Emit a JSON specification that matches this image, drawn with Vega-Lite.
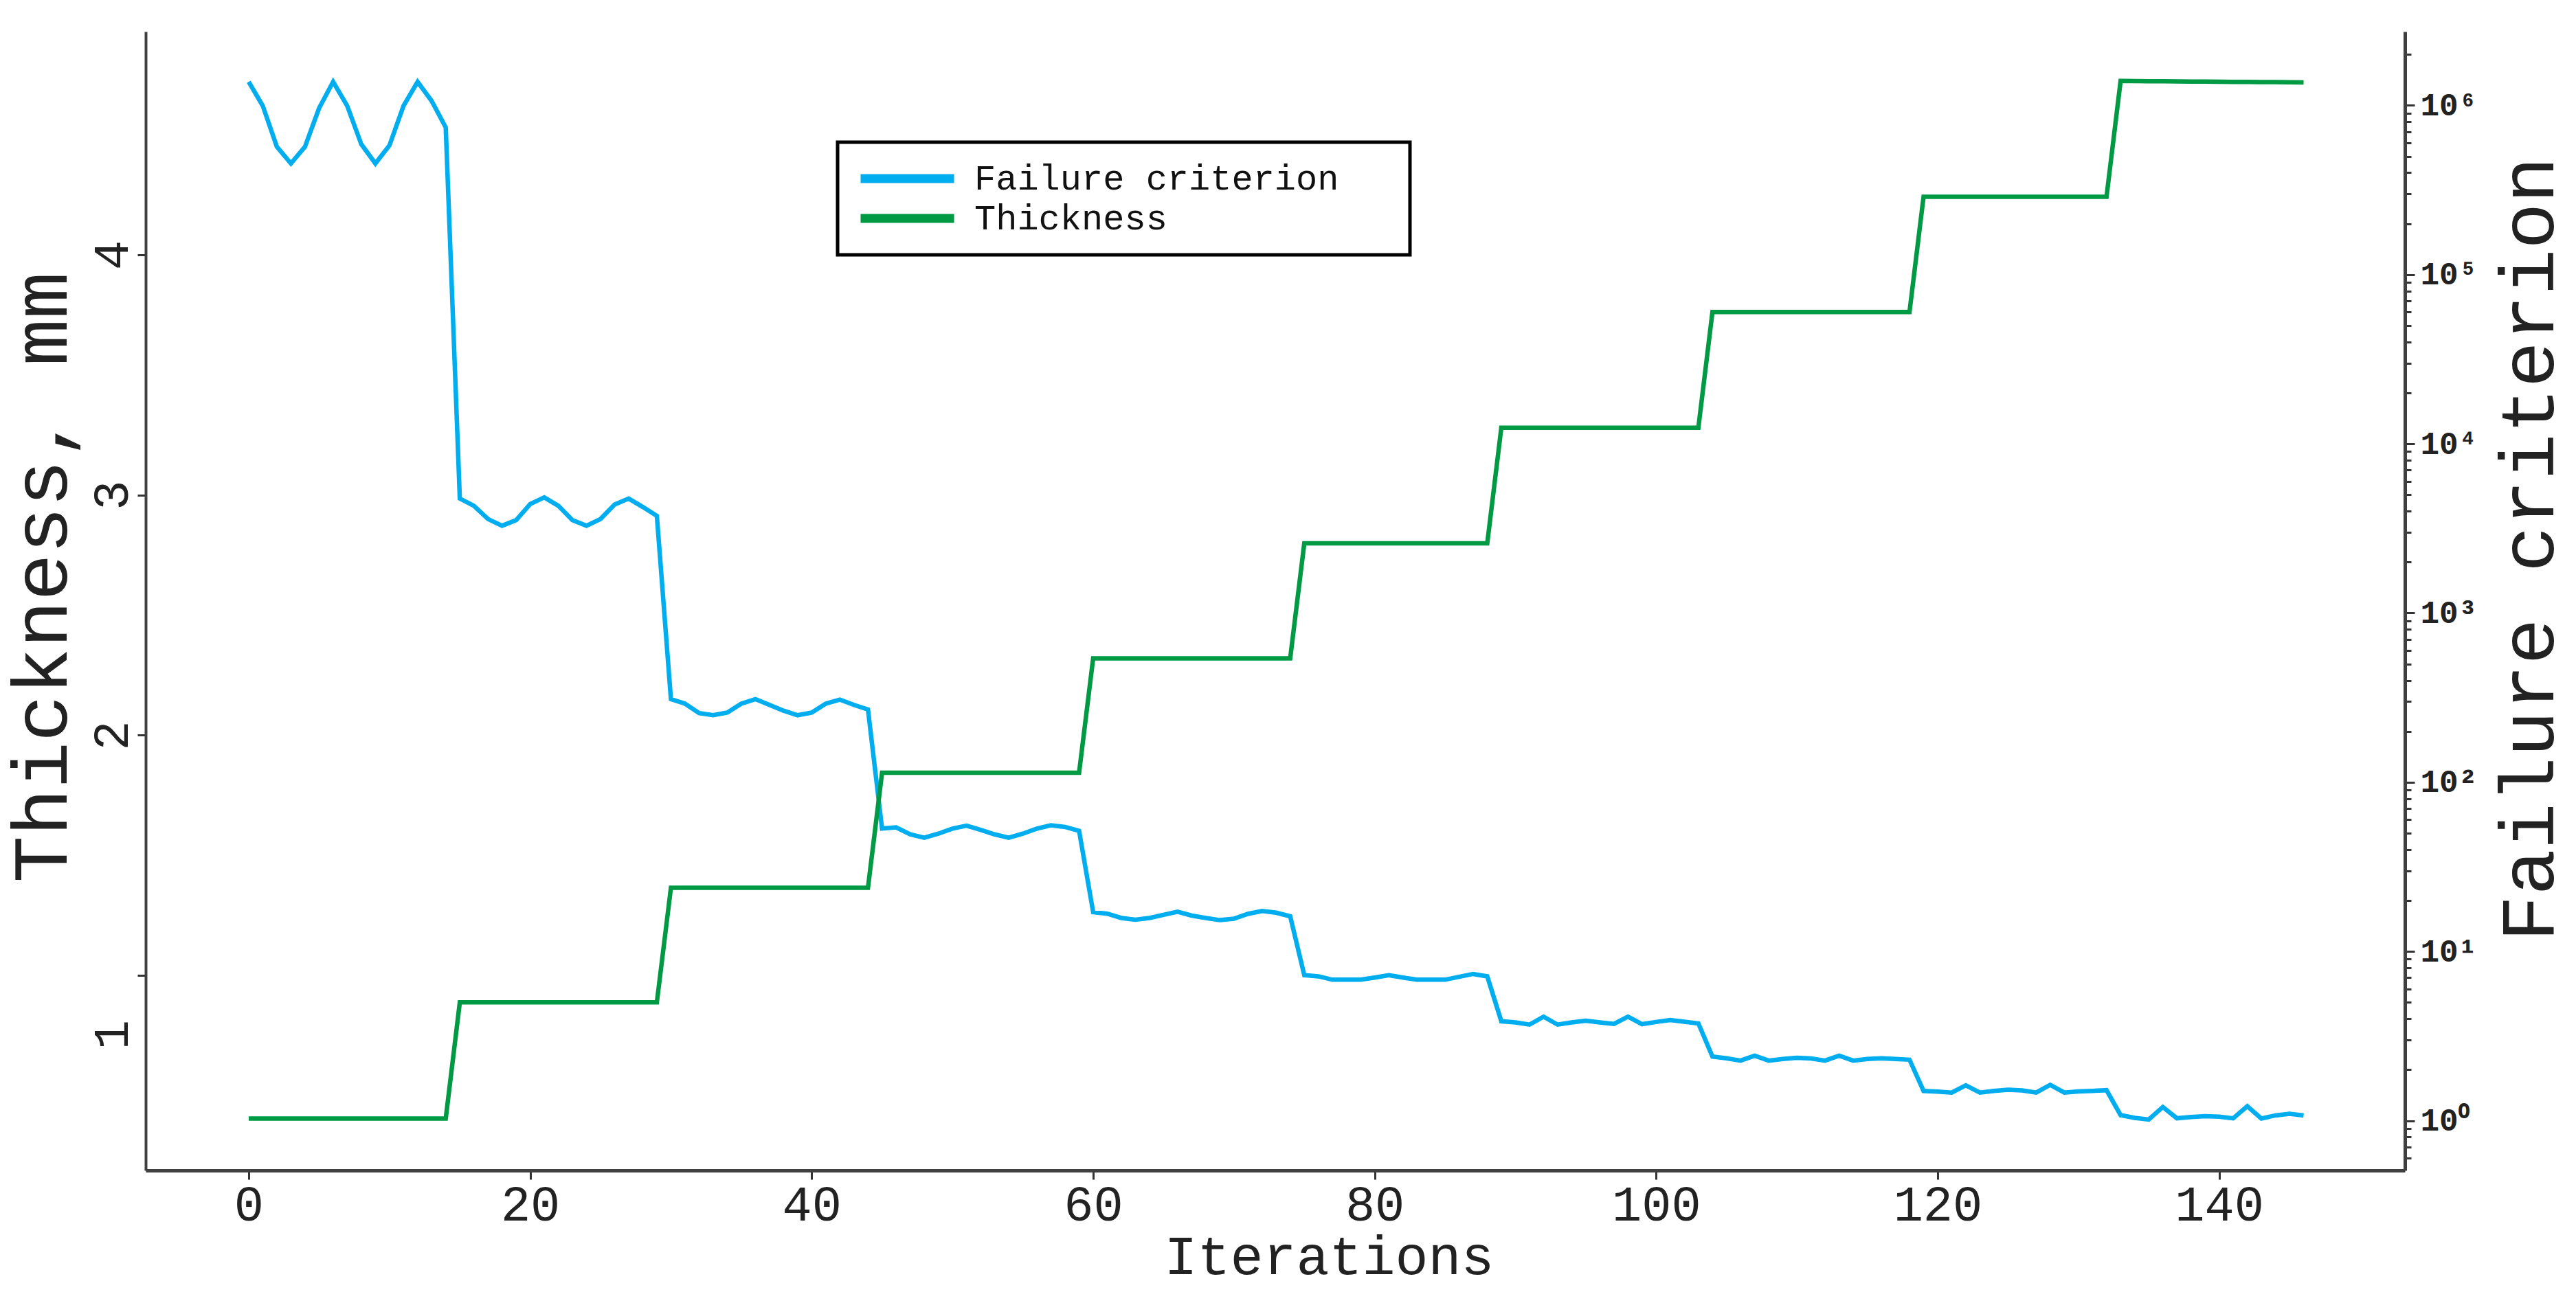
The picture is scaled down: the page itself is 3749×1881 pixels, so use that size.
{
  "$schema": "https://vega.github.io/schema/vega-lite/v6.json",
  "autosize": {"type": "none"},
  "width": 3288,
  "height": 1658,
  "padding": {"left": 212, "top": 46, "right": 249, "bottom": 177},
  "background": "white",
  "config": {"view": {"stroke": null}, "font": "Liberation Mono"},
  "datasets": {
    "left_series": [
      {"iteration": 0, "value": 4.72}, {"iteration": 1, "value": 4.62}, {"iteration": 2, "value": 4.45}, {"iteration": 3, "value": 4.38}, {"iteration": 4, "value": 4.45},
      {"iteration": 5, "value": 4.61}, {"iteration": 6, "value": 4.72}, {"iteration": 7, "value": 4.62}, {"iteration": 8, "value": 4.46}, {"iteration": 9, "value": 4.38},
      {"iteration": 10, "value": 4.455}, {"iteration": 11, "value": 4.62}, {"iteration": 12, "value": 4.72}, {"iteration": 13, "value": 4.64}, {"iteration": 14, "value": 4.53},
      {"iteration": 15, "value": 2.985}, {"iteration": 16, "value": 2.955}, {"iteration": 17, "value": 2.9}, {"iteration": 18, "value": 2.872}, {"iteration": 19, "value": 2.895},
      {"iteration": 20, "value": 2.962}, {"iteration": 21, "value": 2.99}, {"iteration": 22, "value": 2.955}, {"iteration": 23, "value": 2.895}, {"iteration": 24, "value": 2.872},
      {"iteration": 25, "value": 2.9}, {"iteration": 26, "value": 2.96}, {"iteration": 27, "value": 2.985}, {"iteration": 28, "value": 2.95}, {"iteration": 29, "value": 2.913},
      {"iteration": 30, "value": 2.15}, {"iteration": 31, "value": 2.131}, {"iteration": 32, "value": 2.092}, {"iteration": 33, "value": 2.083}, {"iteration": 34, "value": 2.094},
      {"iteration": 35, "value": 2.131}, {"iteration": 36, "value": 2.15}, {"iteration": 37, "value": 2.126}, {"iteration": 38, "value": 2.102}, {"iteration": 39, "value": 2.083},
      {"iteration": 40, "value": 2.094}, {"iteration": 41, "value": 2.131}, {"iteration": 42, "value": 2.148}, {"iteration": 43, "value": 2.126}, {"iteration": 44, "value": 2.107},
      {"iteration": 45, "value": 1.611}, {"iteration": 46, "value": 1.616}, {"iteration": 47, "value": 1.587}, {"iteration": 48, "value": 1.573}, {"iteration": 49, "value": 1.59},
      {"iteration": 50, "value": 1.611}, {"iteration": 51, "value": 1.623}, {"iteration": 52, "value": 1.606}, {"iteration": 53, "value": 1.587}, {"iteration": 54, "value": 1.573},
      {"iteration": 55, "value": 1.59}, {"iteration": 56, "value": 1.611}, {"iteration": 57, "value": 1.625}, {"iteration": 58, "value": 1.618}, {"iteration": 59, "value": 1.602},
      {"iteration": 60, "value": 1.263}, {"iteration": 61, "value": 1.257}, {"iteration": 62, "value": 1.239}, {"iteration": 63, "value": 1.232}, {"iteration": 64, "value": 1.239},
      {"iteration": 65, "value": 1.252}, {"iteration": 66, "value": 1.265}, {"iteration": 67, "value": 1.249}, {"iteration": 68, "value": 1.239}, {"iteration": 69, "value": 1.23},
      {"iteration": 70, "value": 1.236}, {"iteration": 71, "value": 1.256}, {"iteration": 72, "value": 1.268}, {"iteration": 73, "value": 1.261}, {"iteration": 74, "value": 1.246},
      {"iteration": 75, "value": 1.001}, {"iteration": 76, "value": 0.996}, {"iteration": 77, "value": 0.982}, {"iteration": 78, "value": 0.982}, {"iteration": 79, "value": 0.982},
      {"iteration": 80, "value": 0.991}, {"iteration": 81, "value": 1.001}, {"iteration": 82, "value": 0.991}, {"iteration": 83, "value": 0.982}, {"iteration": 84, "value": 0.982},
      {"iteration": 85, "value": 0.982}, {"iteration": 86, "value": 0.994}, {"iteration": 87, "value": 1.006}, {"iteration": 88, "value": 0.996}, {"iteration": 89, "value": 0.809},
      {"iteration": 90, "value": 0.804}, {"iteration": 91, "value": 0.795}, {"iteration": 92, "value": 0.828}, {"iteration": 93, "value": 0.795}, {"iteration": 94, "value": 0.804},
      {"iteration": 95, "value": 0.811}, {"iteration": 96, "value": 0.804}, {"iteration": 97, "value": 0.798}, {"iteration": 98, "value": 0.828}, {"iteration": 99, "value": 0.797},
      {"iteration": 100, "value": 0.806}, {"iteration": 101, "value": 0.814}, {"iteration": 102, "value": 0.807}, {"iteration": 103, "value": 0.8}, {"iteration": 104, "value": 0.662},
      {"iteration": 105, "value": 0.655}, {"iteration": 106, "value": 0.645}, {"iteration": 107, "value": 0.666}, {"iteration": 108, "value": 0.645}, {"iteration": 109, "value": 0.652},
      {"iteration": 110, "value": 0.657}, {"iteration": 111, "value": 0.654}, {"iteration": 112, "value": 0.645}, {"iteration": 113, "value": 0.666}, {"iteration": 114, "value": 0.645},
      {"iteration": 115, "value": 0.652}, {"iteration": 116, "value": 0.655}, {"iteration": 117, "value": 0.652}, {"iteration": 118, "value": 0.649}, {"iteration": 119, "value": 0.519},
      {"iteration": 120, "value": 0.516}, {"iteration": 121, "value": 0.512}, {"iteration": 122, "value": 0.542}, {"iteration": 123, "value": 0.512}, {"iteration": 124, "value": 0.519},
      {"iteration": 125, "value": 0.524}, {"iteration": 126, "value": 0.521}, {"iteration": 127, "value": 0.512}, {"iteration": 128, "value": 0.544}, {"iteration": 129, "value": 0.512},
      {"iteration": 130, "value": 0.517}, {"iteration": 131, "value": 0.519}, {"iteration": 132, "value": 0.522}, {"iteration": 133, "value": 0.418}, {"iteration": 134, "value": 0.407},
      {"iteration": 135, "value": 0.4}, {"iteration": 136, "value": 0.452}, {"iteration": 137, "value": 0.405}, {"iteration": 138, "value": 0.41}, {"iteration": 139, "value": 0.414},
      {"iteration": 140, "value": 0.412}, {"iteration": 141, "value": 0.405}, {"iteration": 142, "value": 0.455}, {"iteration": 143, "value": 0.404}, {"iteration": 144, "value": 0.417},
      {"iteration": 145, "value": 0.424}, {"iteration": 146, "value": 0.417}
    ],
    "right_series": [
      {"iteration": 0, "value": 1.03}, {"iteration": 1, "value": 1.03}, {"iteration": 2, "value": 1.03}, {"iteration": 3, "value": 1.03}, {"iteration": 4, "value": 1.03},
      {"iteration": 5, "value": 1.03}, {"iteration": 6, "value": 1.03}, {"iteration": 7, "value": 1.03}, {"iteration": 8, "value": 1.03}, {"iteration": 9, "value": 1.03},
      {"iteration": 10, "value": 1.03}, {"iteration": 11, "value": 1.03}, {"iteration": 12, "value": 1.03}, {"iteration": 13, "value": 1.03}, {"iteration": 14, "value": 1.03},
      {"iteration": 15, "value": 5.0}, {"iteration": 16, "value": 5.0}, {"iteration": 17, "value": 5.0}, {"iteration": 18, "value": 5.0}, {"iteration": 19, "value": 5.0},
      {"iteration": 20, "value": 5.0}, {"iteration": 21, "value": 5.0}, {"iteration": 22, "value": 5.0}, {"iteration": 23, "value": 5.0}, {"iteration": 24, "value": 5.0},
      {"iteration": 25, "value": 5.0}, {"iteration": 26, "value": 5.0}, {"iteration": 27, "value": 5.0}, {"iteration": 28, "value": 5.0}, {"iteration": 29, "value": 5.0},
      {"iteration": 30, "value": 23.8}, {"iteration": 31, "value": 23.8}, {"iteration": 32, "value": 23.8}, {"iteration": 33, "value": 23.8}, {"iteration": 34, "value": 23.8},
      {"iteration": 35, "value": 23.8}, {"iteration": 36, "value": 23.8}, {"iteration": 37, "value": 23.8}, {"iteration": 38, "value": 23.8}, {"iteration": 39, "value": 23.8},
      {"iteration": 40, "value": 23.8}, {"iteration": 41, "value": 23.8}, {"iteration": 42, "value": 23.8}, {"iteration": 43, "value": 23.8}, {"iteration": 44, "value": 23.8},
      {"iteration": 45, "value": 113.8}, {"iteration": 46, "value": 113.8}, {"iteration": 47, "value": 113.8}, {"iteration": 48, "value": 113.8}, {"iteration": 49, "value": 113.8},
      {"iteration": 50, "value": 113.8}, {"iteration": 51, "value": 113.8}, {"iteration": 52, "value": 113.8}, {"iteration": 53, "value": 113.8}, {"iteration": 54, "value": 113.8},
      {"iteration": 55, "value": 113.8}, {"iteration": 56, "value": 113.8}, {"iteration": 57, "value": 113.8}, {"iteration": 58, "value": 113.8}, {"iteration": 59, "value": 113.8},
      {"iteration": 60, "value": 540}, {"iteration": 61, "value": 540}, {"iteration": 62, "value": 540}, {"iteration": 63, "value": 540}, {"iteration": 64, "value": 540},
      {"iteration": 65, "value": 540}, {"iteration": 66, "value": 540}, {"iteration": 67, "value": 540}, {"iteration": 68, "value": 540}, {"iteration": 69, "value": 540},
      {"iteration": 70, "value": 540}, {"iteration": 71, "value": 540}, {"iteration": 72, "value": 540}, {"iteration": 73, "value": 540}, {"iteration": 74, "value": 540},
      {"iteration": 75, "value": 2580}, {"iteration": 76, "value": 2580}, {"iteration": 77, "value": 2580}, {"iteration": 78, "value": 2580}, {"iteration": 79, "value": 2580},
      {"iteration": 80, "value": 2580}, {"iteration": 81, "value": 2580}, {"iteration": 82, "value": 2580}, {"iteration": 83, "value": 2580}, {"iteration": 84, "value": 2580},
      {"iteration": 85, "value": 2580}, {"iteration": 86, "value": 2580}, {"iteration": 87, "value": 2580}, {"iteration": 88, "value": 2580}, {"iteration": 89, "value": 12450},
      {"iteration": 90, "value": 12450}, {"iteration": 91, "value": 12450}, {"iteration": 92, "value": 12450}, {"iteration": 93, "value": 12450}, {"iteration": 94, "value": 12450},
      {"iteration": 95, "value": 12450}, {"iteration": 96, "value": 12450}, {"iteration": 97, "value": 12450}, {"iteration": 98, "value": 12450}, {"iteration": 99, "value": 12450},
      {"iteration": 100, "value": 12450}, {"iteration": 101, "value": 12450}, {"iteration": 102, "value": 12450}, {"iteration": 103, "value": 12450}, {"iteration": 104, "value": 60100},
      {"iteration": 105, "value": 60100}, {"iteration": 106, "value": 60100}, {"iteration": 107, "value": 60100}, {"iteration": 108, "value": 60100}, {"iteration": 109, "value": 60100},
      {"iteration": 110, "value": 60100}, {"iteration": 111, "value": 60100}, {"iteration": 112, "value": 60100}, {"iteration": 113, "value": 60100}, {"iteration": 114, "value": 60100},
      {"iteration": 115, "value": 60100}, {"iteration": 116, "value": 60100}, {"iteration": 117, "value": 60100}, {"iteration": 118, "value": 60100}, {"iteration": 119, "value": 288500},
      {"iteration": 120, "value": 288500}, {"iteration": 121, "value": 288500}, {"iteration": 122, "value": 288500}, {"iteration": 123, "value": 288500}, {"iteration": 124, "value": 288500},
      {"iteration": 125, "value": 288500}, {"iteration": 126, "value": 288500}, {"iteration": 127, "value": 288500}, {"iteration": 128, "value": 288500}, {"iteration": 129, "value": 288500},
      {"iteration": 130, "value": 288500}, {"iteration": 131, "value": 288500}, {"iteration": 132, "value": 288500}, {"iteration": 133, "value": 1395000},
      {"iteration": 134, "value": 1392000}, {"iteration": 135, "value": 1390000}, {"iteration": 136, "value": 1388000}, {"iteration": 137, "value": 1386000}, {"iteration": 138, "value": 1384000},
      {"iteration": 139, "value": 1382000}, {"iteration": 140, "value": 1380000}, {"iteration": 141, "value": 1378000}, {"iteration": 142, "value": 1376000}, {"iteration": 143, "value": 1374000},
      {"iteration": 144, "value": 1372000}, {"iteration": 145, "value": 1370000}, {"iteration": 146, "value": 1368000}
    ]
  },
  "encoding": {
    "x": {
      "field": "iteration",
      "type": "quantitative",
      "scale": {"domain": [-7.32, 153.2], "nice": false, "zero": false},
      "axis": {
        "values": [0, 20, 40, 60, 80, 100, 120, 140],
        "title": "Iterations",
        "titleFont": "Liberation Mono",
        "titleFontSize": 80,
        "titleFontWeight": "normal",
        "titleColor": "#222222",
        "titleX": 1722,
        "titleY": 150,
        "titleAlign": "center",
        "titleBaseline": "alphabetic",
        "labelFont": "Liberation Mono",
        "labelFontSize": 72,
        "labelColor": "#222222",
        "labelPadding": 2,
        "labelFlush": false,
        "tickSize": 13,
        "tickWidth": 3,
        "tickColor": "#333333",
        "domainColor": "#404040",
        "domainWidth": 5,
        "grid": false
      }
    }
  },
  "layer": [
    {
      "data": {"name": "left_series"},
      "mark": {"type": "line", "strokeWidth": 6.5},
      "encoding": {
        "y": {
          "field": "value",
          "type": "quantitative",
          "scale": {"domain": [0.188, 4.929], "nice": false, "zero": false},
          "axis": {
            "orient": "left",
            "values": [1, 2, 3, 4],
            "title": "Thickness, mm",
            "titleFont": "Liberation Mono",
            "titleFontSize": 114,
            "titleFontWeight": "normal",
            "titleColor": "#222222",
            "titleAngle": 270,
            "titleX": -116,
            "titleY": 794,
            "titleAlign": "center",
            "titleBaseline": "alphabetic",
            "labelAngle": -90,
            "labelAlign": "center",
            "labelBaseline": "alphabetic",
            "labelFont": "Liberation Mono",
            "labelFontSize": 72,
            "labelColor": "#222222",
            "labelPadding": 15,
            "labelOverlap": false,
            "labelOffset": {"condition": {"test": "datum.value == 1", "value": 86}, "value": 0},
            "tickSize": 12,
            "tickWidth": 3,
            "tickColor": "#333333",
            "domainColor": "#404040",
            "domainWidth": 4,
            "grid": false
          }
        },
        "color": {
          "datum": "Failure criterion",
          "type": "nominal",
          "scale": {"domain": ["Failure criterion", "Thickness"], "range": ["#00AEEF", "#009A44"]},
          "legend": {
            "title": null,
            "orient": "none",
            "legendX": 1007,
            "legendY": 161,
            "direction": "vertical",
            "padding": 27,
            "strokeColor": "#000000",
            "fillColor": "#ffffff",
            "symbolType": "stroke",
            "symbolSize": 18496,
            "symbolStrokeWidth": 13,
            "labelFont": "Liberation Mono",
            "labelFontSize": 52,
            "labelColor": "#111111",
            "labelOffset": 23,
            "labelLimit": 2000,
            "labelExpr": "datum.label + '\u2800\u2800'",
            "clipHeight": 52,
            "rowPadding": 6,
            "encode": {"legend": {"update": {"strokeWidth": {"value": 5}}}}
          }
        }
      }
    },
    {
      "data": {"name": "right_series"},
      "mark": {"type": "line", "strokeWidth": 6.5},
      "encoding": {
        "y": {
          "field": "value",
          "type": "quantitative",
          "scale": {"type": "log", "domain": [0.508, 2730000], "nice": false},
          "axis": {
            "orient": "right",
            "values": [0.6, 0.7, 0.8, 0.9, 1, 2, 3, 4, 5, 6, 7, 8, 9, 10, 20, 30, 40, 50, 60, 70, 80, 90, 100, 200, 300, 400, 500, 600, 700, 800, 900, 1000, 2000, 3000, 4000, 5000, 6000, 7000, 8000, 9000, 10000, 20000, 30000, 40000, 50000, 60000, 70000, 80000, 90000, 100000, 200000, 300000, 400000, 500000, 600000, 700000, 800000, 900000, 1000000, 2000000],
            "labelExpr": "abs(log(datum.value)/LN10 - round(log(datum.value)/LN10)) < 0.000001 ? '10' + ['⁰','¹','²','³','⁴','⁵','⁶'][round(log(datum.value)/LN10)] : ''",
            "title": "Failure criterion",
            "titleFont": "Liberation Mono",
            "titleFontSize": 112,
            "titleFontWeight": "normal",
            "titleColor": "#222222",
            "titleAngle": 270,
            "titleX": 215,
            "titleY": 753,
            "titleAlign": "center",
            "titleBaseline": "alphabetic",
            "labelFont": "Liberation Mono",
            "labelFontSize": 46,
            "labelFontWeight": "bold",
            "labelColor": "#222222",
            "labelAlign": "left",
            "labelBaseline": "middle",
            "labelPadding": 8,
            "labelOverlap": false,
            "labelFlush": false,
            "tickSize": {"condition": {"test": "abs(log(datum.value)/LN10 - round(log(datum.value)/LN10)) < 0.000001", "value": 14}, "value": 9},
            "tickWidth": 3,
            "tickColor": "#333333",
            "domainColor": "#404040",
            "domainWidth": 5,
            "grid": false
          }
        },
        "color": {"datum": "Thickness", "type": "nominal"}
      }
    }
  ],
  "resolve": {"scale": {"y": "independent"}}
}
